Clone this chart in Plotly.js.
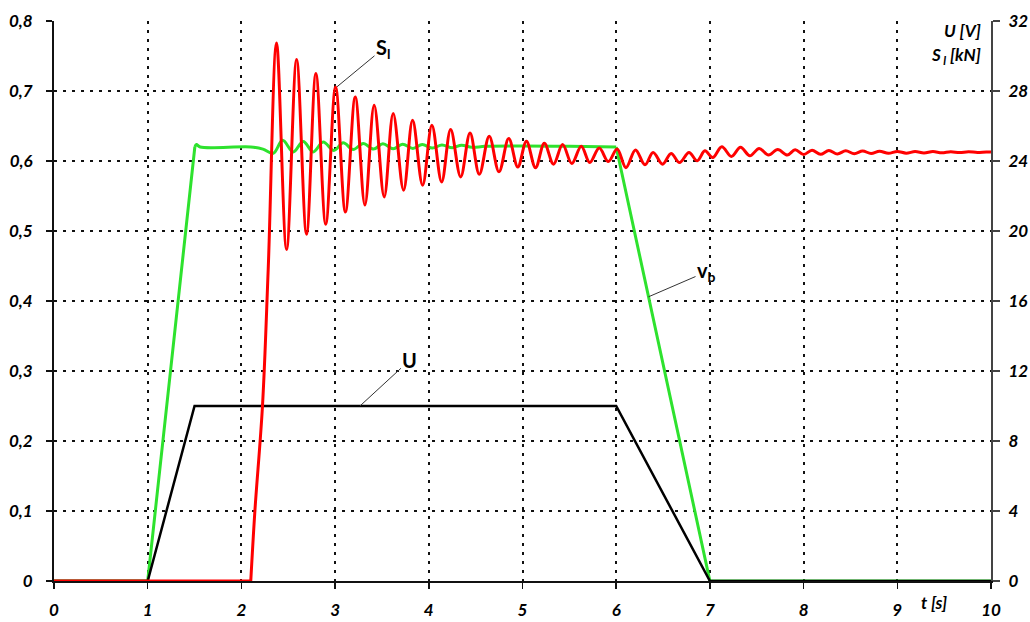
<!DOCTYPE html>
<html><head><meta charset="utf-8">
<script src="https://cdn.plot.ly/plotly-3.0.1.min.js"></script>
<style>html,body{margin:0;padding:0;background:#fff}#chart{width:1030px;height:622px}</style>
</head><body><div id="chart"></div>
<script>
// ---- data ----
const timeU = [0, 1, 1.5, 6, 7, 10];
const voltageU = [0, 0, 10, 10, 0, 0];

const timeVb = [0, 1.0, 1.503, 1.52, 1.56, 2.10, 2.23, 2.34, 2.44, 2.553, 2.66, 2.766, 2.873, 2.987, 3.086, 3.193,
  3.30, 3.41, 3.51, 3.62, 3.72, 3.83, 3.93, 4.04, 4.14, 4.25, 4.35, 4.46, 4.60, 5.00, 5.50, 6.00, 7.00, 10];
const speedVb = [0, 0, 0.620, 0.6235, 0.620, 0.620, 0.617, 0.611, 0.6296, 0.613, 0.628, 0.613, 0.627, 0.615, 0.626, 0.6165,
  0.625, 0.617, 0.6245, 0.6175, 0.624, 0.618, 0.6235, 0.6185, 0.623, 0.619, 0.6225, 0.6195, 0.621, 0.6215, 0.621, 0.620, 0, 0];

const timeSl = [0, 2.1, 2.144, 2.225, 2.286,
  2.375, 2.482, 2.589, 2.695, 2.795, 2.900, 3.005, 3.110, 3.215, 3.318, 3.417, 3.524, 3.620, 3.731, 3.827, 3.934,
  4.033, 4.137, 4.233, 4.340, 4.440, 4.539, 4.645, 4.749, 4.853, 4.950,
  5.042, 5.139, 5.233, 5.331, 5.428, 5.526, 5.627, 5.718, 5.819, 5.916, 6.010, 6.104, 6.206, 6.307, 6.394, 6.495,
  6.586, 6.676, 6.777, 6.864, 6.947, 7.030, 7.127, 7.229, 7.327, 7.427, 7.526, 7.626, 7.724, 7.826,
  7.91, 8.00, 8.09, 8.18, 8.27, 8.36, 8.45, 8.54, 8.63, 8.72, 8.81, 8.905, 9.00, 9.095, 9.19, 9.285, 9.38, 9.475,
  9.57, 9.665, 9.76, 9.855, 9.95, 10];
const forceSl = [0, 0, 4.0, 10.0, 17.8,
  30.74, 18.94, 29.80, 19.82, 29.00, 20.39, 28.23, 21.09, 27.66, 21.48, 27.18, 21.95, 26.71, 22.33, 26.33, 22.62,
  26.04, 22.80, 25.80, 23.09, 25.60, 23.24, 25.41, 23.38, 25.28, 23.66,
  25.13, 23.62, 25.02, 23.82, 24.94, 23.86, 24.84, 23.91, 24.74, 23.97, 24.68, 23.62, 24.63, 23.78, 24.49, 23.82,
  24.43, 23.91, 24.49, 24.01, 24.58, 24.20, 24.82, 24.26, 24.78, 24.30, 24.72, 24.34, 24.66, 24.34,
  24.64, 24.37, 24.62, 24.38, 24.60, 24.40, 24.58, 24.42, 24.57, 24.43, 24.56, 24.44, 24.55, 24.45, 24.54, 24.46,
  24.54, 24.47, 24.53, 24.48, 24.53, 24.49, 24.52, 24.51];

const xTickVals = [0, 1, 2, 3, 4, 5, 6, 7, 8, 9, 10];
const xTickText = ['0', '1', '2', '3', '4', '5', '6', '7', '8', '9', '10'];
const yLeftVals = [0, 0.1, 0.2, 0.3, 0.4, 0.5, 0.6, 0.7, 0.8];
const yLeftText = ['0', '0,1', '0,2', '0,3', '0,4', '0,5', '0,6', '0,7', '0,8'];
const yRightVals = [0, 4, 8, 12, 16, 20, 24, 28, 32];
const yRightText = ['0', '4', '8', '12', '16', '20', '24', '28', '32'];

// ---- styling ----
const GREEN = '#2ee22e', RED = '#ff0000', BLACK = '#000000';
const FONT = "Lato, 'Open Sans', 'DejaVu Sans', sans-serif";
const tickFont = {family: FONT, size: 17, color: '#000', weight: 'bold', style: 'italic'};
const labelFont = {family: FONT, size: 17, color: '#000', weight: 'bold', style: 'italic'};
const markFont = {family: FONT, size: 20, color: '#000', weight: 'bold'};

function seg(xs, ys, from, to, color, width, shape, yaxis) {
  return {x: xs.slice(from, to), y: ys.slice(from, to), yaxis: yaxis, type: 'scatter', mode: 'lines',
    line: {color: color, width: width, shape: shape, smoothing: 1}, hoverinfo: 'skip', showlegend: false};
}
const iGreenTop = timeVb.indexOf(1.503), iGreenEnd = timeVb.indexOf(6.00);
const iRedStart = timeSl.indexOf(2.1);

const traces = [
  seg(timeVb, speedVb, 0, iGreenTop + 1, GREEN, 3, 'linear', 'y'),
  seg(timeVb, speedVb, iGreenTop, iGreenEnd + 1, GREEN, 3, 'spline', 'y'),
  seg(timeVb, speedVb, iGreenEnd, timeVb.length, GREEN, 3, 'linear', 'y'),
  seg(timeU, voltageU, 0, timeU.length, BLACK, 2.5, 'linear', 'y2'),
  seg(timeSl, forceSl, 0, iRedStart + 1, RED, 3, 'linear', 'y2'),
  seg(timeSl, forceSl, iRedStart, timeSl.length, RED, 3, 'spline', 'y2')
];

const gridCommon = {showgrid: true, gridcolor: '#111', griddash: '3px,6px', gridwidth: 2, zeroline: false, layer: 'below traces'};

const layout = {
  width: 1030, height: 622,
  margin: {l: 54, r: 39, t: 21, b: 41, pad: 0},
  paper_bgcolor: '#fff', plot_bgcolor: '#fff',
  font: {family: FONT, color: '#000'},
  showlegend: false,
  xaxis: Object.assign({}, gridCommon, {
    range: [0, 10], tickvals: xTickVals, ticktext: xTickText, tickfont: tickFont,
    showline: true, linecolor: '#111', linewidth: 2, ticks: 'outside', ticklen: 6, tickwidth: 1.5, tickcolor: '#111',
    ticklabelstandoff: 7, fixedrange: true
  }),
  yaxis: Object.assign({}, gridCommon, {
    range: [0, 0.8], tickvals: yLeftVals, ticktext: yLeftText, tickfont: tickFont,
    showline: true, linecolor: '#111', linewidth: 2, ticks: 'outside', ticklen: 6, tickwidth: 1.5, tickcolor: '#111',
    ticklabelstandoff: 10, fixedrange: true
  }),
  yaxis2: {
    overlaying: 'y', side: 'right', range: [0, 32], tickvals: yRightVals, ticktext: yRightText, tickfont: tickFont,
    showline: true, linecolor: '#444', linewidth: 2, ticks: 'outside', ticklen: 7, tickwidth: 1.5, tickcolor: '#444',
    showgrid: false, zeroline: false, ticklabelstandoff: 5, layer: 'below traces', fixedrange: true
  },
  annotations: [
    {xref: 'x', yref: 'y', x: 0.05, y: 0.802, xanchor: 'left', yanchor: 'top', showarrow: false,
     text: 'v<sub> b</sub>  [m/s]', font: labelFont},
    {xref: 'x', yref: 'paper', x: 9.91, y: 0.983, xanchor: 'right', yanchor: 'middle', showarrow: false,
     text: 'U [V]', font: labelFont},
    {xref: 'x', yref: 'paper', x: 9.91, y: 0.937, xanchor: 'right', yanchor: 'middle', showarrow: false,
     text: 'S<sub> l</sub> [kN]', font: labelFont},
    {xref: 'x', yref: 'paper', x: 9.39, y: -0.038, xanchor: 'center', yanchor: 'middle', showarrow: false,
     text: 't [s]', font: labelFont},
    {xref: 'x', yref: 'y', x: 3.02, y: 0.706, ax: 46, ay: -38, showarrow: true, arrowhead: 0, arrowwidth: 1,
     arrowcolor: '#333', text: 'S<sub>l</sub>', font: markFont},
    {xref: 'x', yref: 'y', x: 3.265, y: 0.25, ax: 50, ay: -46, showarrow: true, arrowhead: 0, arrowwidth: 1,
     arrowcolor: '#333', text: 'U', font: markFont},
    {xref: 'x', yref: 'y', x: 6.345, y: 0.406, ax: 58, ay: -25, showarrow: true, arrowhead: 0, arrowwidth: 1,
     arrowcolor: '#333', text: 'v<sub>b</sub>', font: markFont}
  ]
};

Plotly.newPlot('chart', traces, layout, {displayModeBar: false, staticPlot: true});
</script>
</body></html>
